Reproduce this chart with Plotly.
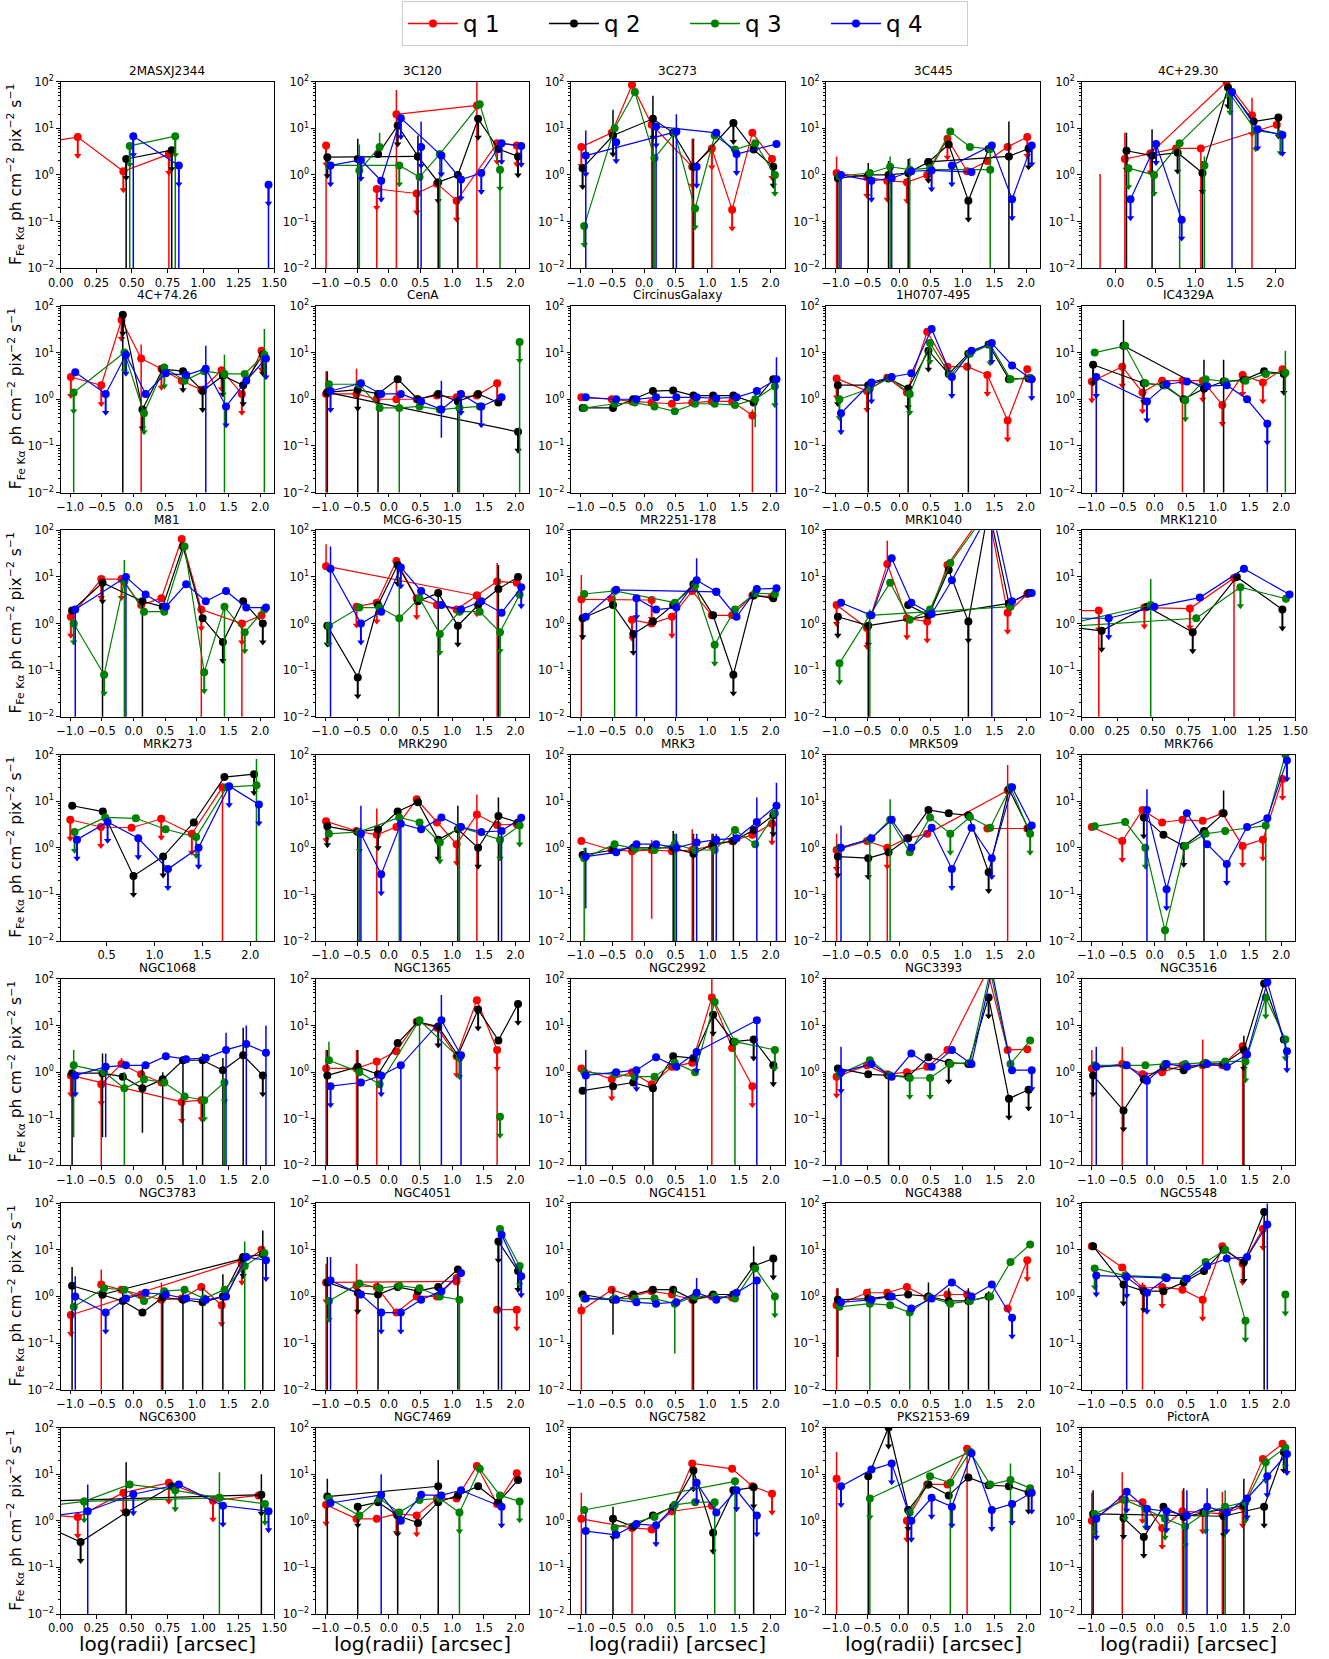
import plotly.graph_objects as go

W, H = 1329, 1659
COLORS = ["#ff0000", "#000000", "#008000", "#0000ff"]
LABELS = ["q 1", "q 2", "q 3", "q 4"]
# radial bins (log radius, arcsec) and small horizontal shift per quartile
GRID = [-0.97, -0.49, -0.17, 0.14, 0.46, 0.78, 1.09, 1.41, 1.73, 2.04]
SHIFT = [-0.02, 0.0, 0.025, 0.05]
YTICKS = [0.01, 0.1, 1, 10, 100]
YTICKTEXT = ["10<sup>\u22122</sup>", "10<sup>\u22121</sup>", "10<sup>0</sup>", "10<sup>1</sup>", "10<sup>2</sup>"]
STD_RANGE = [-1.15, 2.22]
STD_TICKS = [-1.0, -0.5, 0.0, 0.5, 1.0, 1.5, 2.0]
SHORT_TICKS = [0.0, 0.25, 0.5, 0.75, 1.0, 1.25, 1.5]

# point = [bin, value, upper_limit, err_low (0 = to axis bottom), err_high]; None breaks the line
D_2MASXJ2344 = [
    [[2, 4.6], [3, 6.5, 1], [4, 1.2, 1], [5, 2.8, 1, 0, 3.0]],
    [[4, 2.2, 1, 0, 2.4], [5, 3.4, 1, 0, 3.6]],
    [[4, 4.2, 1, 0, 4.4], [5, 6.8, 1, 0, 7]],
    [[4, 6.8, 1, 0, 7], [5, 1.6, 1, 0, 1.7], None, [7, 0.62, 1, 0, 0.65]],
]
D_3C120 = [
    [[0, 4.3, 1, 0, 4.5], None, [2, 0.5, 1, 0, 0.55], [4, 0.4, 1], [5, 0.65], [6, 0.28, 1], [8, 4.8, 1], [9, 4.3, 1], None, [3, 20, 0, 0, 66], [7, 31, 0, 0, 100]],
    [[0, 2.4, 1], [4, 2.5, 0, 0, 7], None, [1, 2.2, 0, 0, 6], None, [2, 2.8], [3, 11.5, 1], [4, 2.5], [5, 0.7, 1, 0, 0.8], [6, 1.0, 0, 0, 1.2], [7, 16, 1], [8, 3.6], [9, 2.5, 1]],
    [[0, 1.6], [3, 1.6, 1], [4, 0.9], [5, 2.8, 0, 0, 3.2], [7, 33], [8, 1.3, 1, 0, 1.4], None, [1, 1.25, 0, 0, 4.5], [2, 4.0, 0, None, 8]],
    [[0, 1.6, 1], [1, 2.1, 1], [2, 0.75, 1], [3, 16.5, 1], [5, 2.6, 1], [6, 0.8, 1], [7, 1.1, 1], [8, 4.8, 1], [9, 4.2, 1], None, [4, 4.0, 1, 0, 14]],
]
D_3C273 = [
    [[0, 4.0, 1], [1, 8], [2, 85], [3, 12, 0, 0, 14], [5, 1.5, 1, 0, 6], [6, 3.7, 1, 0, 4], [7, 0.18, 1], [8, 8], [9, 2.2, 1]],
    [[0, 1.4, 1], [1, 7, 1, None, 25], [3, 16, 1, 0, 50], [4, 8, 0, 0, 9], [5, 1.5, 0, 0, 6], [7, 13, 1], [8, 3.5], [9, 1.5, 1]],
    [[0, 0.08, 1], [1, 10], [2, 60], [3, 2.3, 0, 0, 2.5], [4, 8], [5, 0.19, 1], [6, 7], [7, 3.5], [8, 4.8], [9, 1.0, 1]],
    [[0, 2.6, 1, 0, 9], [4, 8.5, 0, 0, 20], None, [1, 5, 1], None, [3, 11, 1, 0, 12], [6, 8], [7, 2.8, 1], [9, 4.6], None, [5, 1.5, 1]],
]
D_3C445 = [
    [[0, 1.1, 0, 0, 2.5], [1, 0.9, 1], [2, 0.75, 1], [3, 0.7, 1], [4, 1.0], [5, 6, 1], [6, 1.2], [7, 2.0], [8, 4.0], [9, 6.5, 1]],
    [[0, 0.85, 0, 0, 1.2], [1, 1.0, 0, 0, 1.8], [2, 1.0, 0, 0, 2], [3, 1.1, 0, 0, 2.2], [4, 1.9, 1], [8, 2.5, 0, 0, 14], [9, 3.7, 1], None, [4, 1.9], [5, 4.5], [6, 0.28, 1], [7, 3.6]],
    [[0, 0.95, 0, 0, 1.1], [1, 1.1], [2, 1.5, 0, 0, 2.5], [3, 1.3, 0, 0, 2.3], [4, 1.4], [5, 8.5], [6, 4.0], [7, 3.6, 0, 0, 4], None, [4, 1.3], [7, 1.3]],
    [[0, 1.0, 0, 0, 1.2], [1, 0.75, 1], [2, 0.85, 0, 0, 1.5], [3, 1.2], [4, 1.25, 1], [6, 1.15], None, [5, 1.6, 1], [7, 4.3], [8, 0.3, 1], [9, 4.3, 1]],
]
D_4C2930 = [
    [[3, 2.2, 0, 0, 8], [4, 2.9, 1], [5, 3.7], [6, 3.7, 0, 0, 4], [9, 12], None, [4, 2.9], [7, 100], [8, 19, 1, 0, 45], None, [2, 0.002, 0, None, 1.05]],
    [[3, 3.3, 1, 0, 8], [4, 2.6, 1, 0, 9.5], [5, 3.0, 1], [6, 1.1, 1, 0, 2], [7, 75, 1], [8, 14], [9, 17, 1]],
    [[3, 1.4, 1], [4, 1.0, 1], [5, 4.8, 0, 0, 5], [7, 55, 1], [8, 9, 1], [9, 7.5, 1], None, [6, 1.6, 0, 0, 2.5]],
    [[3, 0.3, 1], [4, 4.6, 1], [5, 0.11, 1], None, [7, 60, 0, 0, 70], [8, 9.5, 1], [9, 7.2, 1]],
]
D_4C7426 = [
    [[0, 3.0, 1], [1, 2.0, 1], [2, 50, 1], [3, 7.5, 0, 0, 15], [4, 4.5, 1], [5, 2.5], [6, 1.6], [7, 4.2, 1], [8, 1.3, 1], [9, 11, 1]],
    [[2, 65, 1, 0, 70], [3, 0.6, 1], [4, 4.4], [5, 4.0, 1], [6, 1.5, 1], [7, 3.2, 1], [8, 2.0, 1], [9, 9, 1]],
    [[0, 1.4, 1, 0, 1.5], [2, 10, 1], [3, 0.5, 1], [4, 4.8, 1], [5, 2.5], [6, 4.0], [7, 3.5, 0, 0, 9], [8, 3.5], [9, 9, 0, 0, 32]],
    [[0, 3.8], [1, 1.3, 1], [2, 9, 1], [3, 1.3], [4, 3.6], [5, 3.3], [6, 4.5, 1, 0, 14], [7, 0.7, 1], [8, 2.5], [9, 7.5, 1]],
]
D_CENA = [
    [[0, 1.3, 0, 0, 4], [1, 1.3, 0, None, 4.5], [2, 1.0], [3, 1.0, 0, None, 3], [4, 1.0], [5, 1.2], [6, 1.1], [7, 1.2], [8, 2.2, 1]],
    [[0, 1.4, 0, 0, 4], [1, 1.6, 1, 0, 2], [2, 1.3, 0, 0, 1.5], [3, 2.7], [4, 1.0], [5, 1.3], [6, 0.9, 0, 0, 1.5], [7, 1.3], [8, 0.85], None, [0, 1.4], [9, 0.2, 1]],
    [[0, 2.1], [1, 2.1], [2, 0.65], [3, 0.65, 0, 0, 0.9], [4, 0.7], [5, 0.6], [6, 0.65, 0, 0, 0.9], [7, 0.7], None, [9, 17, 1, 0, 20]],
    [[0, 1.5, 1], [1, 2.2], [2, 1.3], [3, 1.3], [4, 0.9], [5, 0.6, 0, 0.15, 2.5], [6, 1.3, 1], [7, 0.7, 1], [8, 1.1]],
]
D_CIRCINUS = [
    [[0, 1.1], [1, 1.0], [2, 0.9], [3, 0.85], [4, 0.8], [5, 0.85], [6, 0.9], [7, 0.9], [8, 0.45, 0, 0, 0.6]],
    [[0, 0.65], [1, 0.65], [2, 1.0], [3, 1.5], [4, 1.55], [5, 1.2], [6, 1.2], [7, 1.2], [8, 0.85], [9, 2.7]],
    [[0, 0.65], [1, 0.8], [2, 0.85], [3, 0.7], [4, 0.55], [5, 0.8], [6, 0.8], [7, 0.75], [8, 1.0, 0, 0.25, 1.3], [9, 1.9, 1, 0.7, 3]],
    [[0, 1.1], [1, 1.0], [2, 1.0], [3, 1.1], [4, 1.1], [5, 1.1], [6, 1.05], [7, 1.1], [8, 1.5], [9, 2.7, 0, 0, 8]],
]
D_1H0707 = [
    [[0, 2.8, 1], [1, 1.5, 1], [2, 2.9], [3, 1.4], [4, 28], [5, 5], [6, 5], [7, 3.3, 1], [8, 0.35, 1], [9, 4.4]],
    [[0, 2.0, 1], [1, 2.0, 0, 0, 2.5], [2, 2.8], [3, 1.7, 1, 0, 2], [4, 11, 1], [5, 3.5], [6, 9.5, 0, 0, 10], [7, 15], [8, 2.7], [9, 2.8]],
    [[0, 1.0, 1], [1, 1.7], [2, 2.9], [3, 1.3, 1], [4, 16, 1], [5, 3.3], [6, 9.5], [7, 15, 1], [8, 2.7], [9, 2.9]],
    [[0, 0.5, 1], [1, 2.3, 1], [2, 3.0], [3, 3.6], [4, 32], [5, 3.0, 1], [6, 11], [7, 16, 1], [8, 5.3], [9, 2.7, 1]],
]
D_IC4329A = [
    [[0, 2.4, 1], [1, 5, 1], [2, 1.4, 1], [3, 2.5], [4, 2.5, 1, 0, 2.7], [5, 2.5, 1], [6, 0.75, 1], [7, 3.3, 1], [8, 2.3, 1], [9, 4.4]],
    [[0, 5.5, 1], [2, 2.2, 1], [3, 2.0], [4, 1.0], [5, 1.7, 0, 0, 7], [6, 2.4, 0, 0, 7], [7, 2.6], [8, 4.0], [9, 3.5, 1], None, [1, 14, 0, 0, 50], [5, 1.7]],
    [[0, 10], [1, 14], [2, 2.2], [3, 2.0], [4, 0.95, 1], [5, 2.7], [6, 2.4], [7, 2.5], [8, 3.5], [9, 3.7, 0, 0, 11]],
    [[0, 3.0, 1, 0, 3.2], [2, 0.9, 1], [3, 2.1], [4, 2.4], [5, 1.9], [6, 2.0], [7, 1.0], [8, 0.3, 1, 0, 0.35]],
]
D_M81 = [
    [[0, 1.4, 1], [1, 9, 1], [2, 9, 1], [3, 2.5], [4, 3.5], [5, 65], [6, 2.0, 1, 0, 2.2], [8, 1.0, 1, 0, 1.1], [9, 1.5]],
    [[0, 1.9], [1, 7.5, 1, 0, 8], [3, 3.0, 0, 0, 3.3], [4, 2.3], [5, 45], [6, 1.3], [7, 0.4, 1], [8, 3.0], [9, 1.0, 1]],
    [[0, 1.0, 1], [1, 0.08, 1], [2, 8, 0, 0, 23], [3, 1.8], [4, 1.8], [5, 45], [6, 0.09, 1], [7, 2.3, 0, 0, 2.5], [8, 0.65, 1], [9, 2.0]],
    [[0, 2.0, 0, 0, 2.2], [2, 10, 0, 0, 11], [3, 4.2], [4, 2.3], [5, 7], [6, 3.0], [7, 5.0], [8, 2.2], [9, 2.2]],
]
D_MCG63015 = [
    [[0, 17, 0, None, 50], [7, 4.0, 1], [8, 8, 0, 0, 20], [9, 7.5], None, [1, 2.3, 1], [2, 2.8, 1], [3, 22], [4, 3.5, 1], [5, 2.5], [6, 2.0], [7, 4.0]],
    [[0, 0.9, 1], [1, 0.07, 1], [2, 2.5], [3, 18, 1], [4, 3.0], [5, 4.5, 0, 0, 5], [6, 0.9, 1], [7, 2.5], [8, 5.5, 0, 0, 18], [9, 10]],
    [[0, 0.9, 1], [1, 2.2], [2, 2.2], [3, 1.3, 0, 0, 10], [4, 3.5], [5, 0.6, 1], [6, 1.8], [7, 1.8], [8, 0.65, 1, 0, 0.7], [9, 4.2]],
    [[0, 15, 0, 0, 45], [1, 1.0, 1], [2, 1.8], [3, 16, 1], [4, 5], [5, 2.5], [6, 2.0], [7, 3.0], [8, 1.7], [9, 6, 1]],
]
D_MR2251 = [
    [[0, 3.3, 0, 0, 11], [1, 3.3], [3, 3.2, 1], None, [2, 1.2, 1], [3, 1.0], [4, 1.4, 1], [5, 5], [6, 1.5], [7, 1.5], [8, 4], [9, 3.8]],
    [[0, 1.3, 1], [1, 2.5], [2, 0.6, 1], [3, 1.1], [4, 2.5], [5, 7], [6, 1.5], [7, 0.08, 1], [8, 4.0], [9, 3.5]],
    [[0, 4.3], [1, 5.0, 0, 0, 5.5], [4, 2.8], [5, 6.5], [6, 0.35, 1], [7, 2.0], [8, 4.5], [9, 4.3]],
    [[0, 1.4], [1, 5.3], [6, 4.8], None, [2, 3.5, 1, 0, 4], [3, 2.0], [4, 2.2, 0, 0, 2.5], [5, 8.5, 0, None, 25], [6, 4.8], [7, 1.4], [8, 5.5], [9, 5.7]],
]
D_MRK1040 = [
    [[0, 2.5, 1], [1, 0.8, 1], [2, 19, 0, None, 60], [3, 1.3, 1], [4, 1.1, 1], [5, 18], [7, 300], [8, 1.7, 1], [9, 4.3]],
    [[0, 1.4, 1], [1, 0.9, 1, 0, 1], [8, 2.7], None, [3, 2.5], [4, 1.5], [5, 14], [6, 1.1, 1, 0, 1.2], [7, 300], [8, 2.7], [9, 4.5]],
    [[0, 0.14, 1], [1, 1.5, 0, 0, 2], [2, 7.5], [3, 1.2], [4, 2.0], [5, 20], [7, 300], None, [1, 1.5], [8, 2.3]],
    [[0, 2.8], [1, 1.5], [2, 25], [3, 2.8], [4, 1.6], [5, 8.5], [7, 300, 0, 0, 300], [8, 3.0], [9, 4.5]],
]
D_MRK1210 = [
    [[2, 1.9], [3, 1.9, 1, 0, 2], None, [4, 2.2, 1], [5, 2.1, 1], [6, 9.5, 0, 0, 10]],
    [[2, 0.9], [3, 0.7, 1], [4, 2.3], [5, 0.65, 1], [6, 10], [7, 2.0, 1]],
    [[2, 0.9], [4, 2.5, 0, 0, 9], None, [2, 0.85], [5, 1.3], [6, 6, 1], [7, 3.4]],
    [[2, 1.3], [3, 1.3, 1], [4, 2.3], [5, 3.6], [6, 15], [7, 4.2]],
]
D_MRK273 = [
    [[3, 4.0, 1], [4, 2.8, 1], [5, 2.7], [6, 4.2, 1], [7, 2.0, 1], [8, 20, 0, 0, 22]],
    [[3, 8], [4, 6], [5, 0.25, 1], [6, 0.65, 1], [7, 3.5], [8, 33], [9, 38, 1]],
    [[3, 2.2, 1], [4, 4.5], [5, 4.3], [6, 2.5], [7, 1.7, 1], [8, 20], [9, 22, 0, 0, 80]],
    [[3, 1.5, 1], [4, 3.6, 1], [5, 1.6, 1], [6, 0.35, 1], [7, 1.0, 1], [8, 21, 1], [9, 8.5, 1]],
]
D_MRK290 = [
    [[0, 3.7, 1], [1, 2.3], [2, 1.9, 0, 0, 7], [3, 2.8], [4, 11], [5, 3.5], [6, 1.2, 1], [7, 5.2, 0, 0, 14], [8, 3.1], [9, 3.2]],
    [[0, 2.9, 1], [1, 2.2, 0, 0, 2.5], [2, 2.5, 1], [3, 6], [4, 9.5], [5, 1.5, 1], [6, 2.5, 0, 0, 8], [7, 1.0, 1], [8, 4.8, 0, 0, 12], [9, 3.5]],
    [[0, 2.0], [1, 2.2, 1, 0, 2.4], [3, 4.5, 0, 0, 5], [4, 3.5], [5, 1.3, 1], [6, 2.8, 0, 0, 3], [8, 1.5, 1], [9, 3.0, 1]],
    [[1, 2.0, 0, 0, 8], [2, 0.27, 1], [3, 3.3, 0, 0, 3.5], [4, 2.5], [5, 4.5], [6, 2.8], [7, 2.2], [8, 2.3, 0, 0, 2.5], [9, 4.4]],
]
D_MRK3 = [
    [[0, 1.4], [1, 0.9], [2, 0.85, 0, 0, 1.2], [3, 0.9, 0, 0.03, 1.5], [4, 0.85], [5, 0.9, 0, 0, 2.5], [6, 1.1, 0, 0, 2], [7, 1.4], [8, 1.9], [9, 3.3, 1]],
    [[0, 0.7], [1, 0.9], [2, 1.0], [3, 1.0], [4, 1.0, 0, 0, 2.3], [5, 0.75, 0, 0, 2], [6, 1.2, 0, 0, 2], [7, 1.4, 0, 0, 2], [8, 2.4], [9, 5, 1]],
    [[0, 0.6, 0, 0, 1], [1, 1.2], [2, 0.95], [3, 0.9], [4, 1.2, 0, 0, 2], [5, 0.9], [6, 0.9], [7, 2.4], [8, 1.2], [9, 5.5]],
    [[0, 0.65, 0, 0.05, 1], [1, 0.8], [2, 1.2], [3, 1.2], [4, 1.0, 0, 0, 2], [5, 1.3, 0, 0, 2], [6, 1.5, 0, 0, 2], [7, 1.6], [8, 3.6, 0, 0, 12], [9, 8, 0, 0, 25]],
]
D_MRK509 = [
    [[0, 0.9, 1, 0, 2], [1, 1.4], [2, 1.0, 1, 0, 1.2], [3, 1.6], [4, 2.0], [8, 17, 0, 0, 60], None, [7, 2.6], [9, 2.6]],
    [[0, 0.65, 1], [1, 0.6, 1], [2, 0.8], [3, 1.6], [4, 6.5], [5, 5.5], [6, 5.0], [7, 0.3, 1], [8, 18], [9, 2.6]],
    [[0, 1.0], [1, 1.5, 0, 0, 2], [2, 4.0, 0, 0, 11], [3, 0.8], [4, 4.5], [5, 2.0, 1], [6, 4.6], [7, 2.7], [8, 20], [9, 2.0, 1]],
    [[0, 1.0, 0, 0, 3], [1, 1.6], [2, 4.0], [3, 1.0], [4, 2.7], [5, 0.35, 1], [6, 2.7], [7, 0.6, 1], [8, 20], [9, 3.0]],
]
D_MRK766 = [
    [[0, 2.8], [1, 1.4, 1], [2, 6.5], [3, 3.5], [4, 4.0], [5, 3.8], [6, 5.5], [7, 1.1, 1], [8, 1.5, 1], [9, 30, 1]],
    [[2, 4.5, 1], [3, 1.9], [4, 1.1, 1], [5, 2.3, 0, 0, 2.5], [6, 5.5, 0, None, 17]],
    [[0, 2.9], [1, 3.6], [2, 1.0, 1], [3, 0.017, 0, 0, 0.02], [4, 1.1], [5, 2.0], [6, 2.3], [8, 3.0, 0, 0, 3], [9, 100]],
    [[2, 6.5, 0, 0, 18], [3, 0.13, 1], [4, 5.5], [5, 1.2], [6, 0.45, 1], [7, 2.8], [8, 4.3], [9, 75, 1]],
]
D_NGC1068 = [
    [[0, 0.85, 1], [5, 0.23, 1], [6, 0.25, 1], None, [1, 0.55, 1, 0, 1], [2, 1.5, 0, None, 2], [3, 0.9], [4, 0.6]],
    [[0, 0.95, 0, 0, 1.1], [1, 0.95, 0, 0.04, 2.5], [2, 0.8], [3, 0.45, 0, 0.05, 1.5], [4, 0.7, 0, 0, 1], [5, 1.8, 0, 0, 2], [6, 1.8, 0, 0, 2.5], [7, 1.1, 0, 0, 2], [8, 2.3, 0, 0, 9], [9, 0.85, 1]],
    [[0, 1.4, 0, 0.04, 3], [1, 1.0], [2, 0.45, 0, 0, 1], [3, 0.7], [4, 0.6], [5, 0.3], [6, 0.25, 1], [7, 0.6, 1, 0, 0.7]],
    [[0, 0.85, 1], [1, 1.3, 0, 0.04, 2.5], [2, 1.4], [3, 1.4], [4, 2.2], [5, 1.9], [6, 2.0], [7, 3.0, 0, 0, 7], [8, 4.0, 0, 0, 10], [9, 2.6, 0, 0, 10]],
]
D_NGC1365 = [
    [[0, 1.2, 0, 0, 3], [1, 1.2, 0, 0, 3], [2, 1.7, 0, 0, 2], [3, 2.8], [4, 12], [5, 9], [6, 2.2, 1], [7, 35], [8, 3.0, 1, 0, 3.3]],
    [[0, 0.85, 0, 0, 3], [1, 1.3, 0, 0, 3], [2, 0.9], [3, 4.2], [4, 12], [5, 9.5, 1], [6, 2.3], [7, 22, 1], [8, 4.8], [9, 29, 1]],
    [[0, 1.8, 0, None, 4.5], [1, 1.0], [2, 0.55], [4, 13, 0, 0, 14], [6, 2.0, 1], None, [8, 0.11, 1]],
    [[0, 0.5, 1], [1, 0.6], [2, 0.85, 1], [3, 1.4, 0, 0, 1.5], [5, 13, 0, 0, 45], [6, 2.3, 0, 0, 2.5]],
]
D_NGC2992 = [
    [[0, 1.2], [1, 0.7, 1], [2, 1.0], [3, 0.55], [4, 1.3], [5, 1.6], [6, 40, 0, 0, 100], [7, 3.3], [8, 0.5, 1]],
    [[0, 0.4], [1, 0.5], [2, 0.6], [3, 0.45, 0, 0, 0.5], [4, 2.2], [5, 2.0], [6, 17, 1], [7, 4.5], [8, 5, 1], [9, 1.4, 1]],
    [[0, 1.0], [1, 0.9], [2, 0.8], [3, 0.8], [4, 1.6], [5, 1.0], [6, 32], [7, 4.5, 0, 0, 5], [9, 3.0, 1]],
    [[0, 0.85, 0, 0, 3], [1, 1.0], [2, 1.1, 1], [3, 2.1], [4, 1.3], [5, 2.7, 1], [8, 13, 0, 0, 15]],
]
D_NGC3393 = [
    [[0, 0.8, 1], [1, 1.4], [2, 0.9], [3, 1.0], [4, 1.3], [5, 3.0], [7, 150], [8, 3.0], [9, 3.1]],
    [[0, 1.2], [1, 0.9], [2, 0.85, 0, 0, 1], [3, 0.8], [4, 2.1], [5, 1.6, 1], [6, 1.5], [7, 40, 1], [8, 0.27, 1], [9, 0.42, 1]],
    [[0, 0.9], [1, 1.8], [2, 0.85], [3, 0.75, 1], [4, 0.75, 1], [5, 1.5], [6, 1.6], [7, 150], [8, 1.5], [9, 4.8]],
    [[0, 1.0, 1, 0, 3.5], [1, 1.5], [2, 0.8], [3, 2.5], [4, 1.3], [5, 3.0], [6, 1.5], [7, 150], [8, 1.1], [9, 1.1, 1]],
]
D_NGC3516 = [
    [[0, 1.2, 0, 0, 3], [1, 1.5, 0, 0, 3.5], [2, 0.9], [3, 1.0], [4, 1.4], [5, 1.4, 0, 0, 5], [6, 1.4], [7, 3.6, 0, 0, 4]],
    [[0, 0.85, 1], [1, 0.15, 1], [2, 0.7], [3, 1.3], [4, 1.1], [5, 1.5], [6, 1.5], [7, 3.0, 1, 0, 6], [8, 80], [9, 5]],
    [[0, 1.4], [1, 1.4], [2, 1.4], [3, 1.5], [4, 1.5], [5, 1.6], [6, 1.7], [7, 1.7, 1], [8, 40, 1], [9, 5.0, 1]],
    [[0, 1.3, 0, 0, 3.5], [1, 1.4], [2, 0.65, 0, 0, 1], [3, 1.5], [4, 1.3], [5, 1.5], [6, 1.3], [7, 2.4], [8, 85], [9, 2.8, 1]],
]
D_NGC3783 = [
    [[0, 0.4, 1], [8, 6], None, [1, 1.8, 0, 0, 3.8], [2, 1.4], [3, 1.1], [4, 0.85, 0, 0, 2], [5, 0.9], [6, 1.6], [7, 0.65, 1], [8, 5.0, 1], [9, 10]],
    [[0, 1.7, 0, 0, 4.3], [1, 1.1], [2, 0.8, 0, 0, 1.5], [3, 0.45], [4, 0.95, 0, 0, 1.5], [5, 0.85, 0, 0, 1.5], [6, 0.75, 0, 0, 1.5], [7, 1.0, 0, 0, 3], [8, 7, 1], [9, 8, 0, 0, 26], None, [1, 1.1], [8, 6.5]],
    [[0, 0.6], [1, 1.5], [2, 1.4], [3, 0.8], [4, 1.3], [5, 1.4], [6, 0.9], [7, 1.4], [8, 4.5, 0, 0, 15], [9, 8.5]],
    [[0, 1.0, 0, 0, 2.7], [1, 0.45, 1], [2, 0.9], [3, 1.2], [4, 1.1], [5, 0.9], [6, 0.85], [7, 1.0], [8, 7], [9, 6, 1]],
]
D_NGC4051 = [
    [[0, 2.0, 1, 0, 5], [6, 2.1], None, [1, 1.7, 0, 0, 5], [2, 1.6], [3, 0.45], [4, 1.0], [5, 1.0], [6, 2.5], None, [8, 0.52], [9, 0.52, 1]],
    [[0, 2.0, 0, 0, 7], [1, 1.2, 1], [2, 1.1, 0, 0, 2], [3, 1.6], [4, 1.3], [5, 1.6], [6, 3.8, 0, 0, 4], None, [8, 15, 1, 0, 16], [9, 3.5, 1]],
    [[0, 0.8, 1], [1, 1.9], [2, 1.5], [3, 1.7], [4, 1.5], [5, 1.0], [6, 0.85, 0, 0, 1], None, [8, 28], [9, 4.5, 1]],
    [[0, 2.2, 0, 0, 7], [1, 1.1], [2, 0.45, 1], [3, 0.45, 1], [4, 0.85], [5, 1.3], [6, 3.2], None, [8, 21, 0, 0, 25], [9, 2.7, 1]],
]
D_NGC4151 = [
    [[0, 0.5, 0, 0, 0.7], [1, 1.4], [2, 1.0], [3, 1.3], [4, 1.1], [5, 0.85, 0, 0, 1], [6, 1.0], [7, 0.95]],
    [[0, 1.1], [1, 0.85, 0, 0.15, 1.5], [2, 1.1], [3, 1.4], [4, 1.4], [5, 0.85, 0, 0, 1], [6, 1.1], [7, 1.1], [8, 4.5, 0, 0, 12], [9, 6.5, 1]],
    [[0, 0.9], [1, 0.9], [2, 0.9], [3, 0.9], [4, 0.7, 0, 0.06, 1.5], [5, 1.0], [6, 1.0], [7, 0.9], [8, 4.0], [9, 1.0, 1]],
    [[0, 0.9], [1, 0.85], [2, 0.75], [3, 0.7], [4, 0.75], [5, 1.2, 0, None, 2.5], [6, 0.85], [7, 1.2], [8, 2.2, 0, 0, 2.5]],
]
D_NGC4388 = [
    [[0, 0.65, 0, 0, 1.5], [1, 1.2], [2, 1.2], [3, 1.6], [4, 0.95], [5, 1.1], [6, 1.1], None, [8, 0.55], [9, 6, 1]],
    [[0, 0.85, 0, 0.05, 1.5], [1, 0.9], [2, 1.0], [3, 1.1], [4, 1.0, 0, 0, 2], [5, 0.8, 0, 0, 1.5], [6, 0.8, 0, 0, 1.5], [7, 1.0, 0, 0, 1.3]],
    [[0, 0.6], [1, 0.7, 0, 0, 1.5], [2, 0.65], [3, 0.45, 0, 0, 0.5], [4, 0.95], [5, 0.7], [6, 0.8], [7, 1.0], [8, 5.5], [9, 13]],
    [[0, 0.75], [1, 0.85], [2, 1.0], [3, 0.55], [4, 0.9], [5, 2.0], [6, 1.0], [7, 1.8], [8, 0.35, 1]],
]
D_NGC5548 = [
    [[0, 12], [1, 4.2], [2, 1.5, 0, 0, 2], [3, 1.6, 1], [4, 1.4], [5, 0.85, 1], [6, 12], [7, 5, 1], [8, 28, 1]],
    [[0, 12], [1, 1.8, 1], [2, 1.3, 1], [3, 1.3], [4, 2.0], [5, 3.5], [6, 10], [7, 5.5, 1], [8, 65, 0, 0, 70]],
    [[0, 4.0, 1], [1, 2.8], [3, 2.6], [4, 2.4], [5, 5.5], [6, 10], [7, 0.3, 1], None, [9, 1.1, 1]],
    [[0, 2.8, 1], [3, 2.5], [4, 2.4], [5, 4.5], [6, 6.5], [7, 7], [8, 35, 0, 0, 100], None, [1, 2.6, 1, 0, 3], [2, 1.2, 1], [3, 2.5]],
]
D_NGC6300 = [
    [[2, 1.4], [3, 1.2, 1], [4, 4, 1], [5, 6.5, 1], [6, 2.7, 1], [7, 3.5]],
    [[2, 2.6], [7, 3.6, 1, 0, 10], None, [2, 0.95], [3, 0.35, 1], [4, 1.5, 0, 0, 18], [5, 5.5]],
    [[2, 2.0], [3, 2.6, 1], [4, 6], [5, 4.5, 1], [6, 3.1, 0, 0, 11], [7, 2.3, 1], None, [3, 2.6], [6, 3.1]],
    [[2, 1.2], [3, 1.6, 0, 0, 6], [4, 3.7, 1], [5, 6], [6, 2.1, 1], [7, 1.6, 1]],
]
D_NGC7469 = [
    [[0, 2.2, 1], [1, 1.1], [2, 1.1], [3, 1.4, 1], [4, 1.3, 1], [5, 3.0], [6, 3.0], [7, 15], [8, 2.3], [9, 10.5]],
    [[0, 3.3, 0, 0, 8], [5, 5.5, 0, 0, 20], None, [1, 2.0, 1, 0, 2.2], [2, 2.5], [3, 1.3, 1, 0, 1.4], [4, 0.9], [5, 2.5], [6, 3.5], [7, 5.5], [8, 2.5], [9, 7.5]],
    [[0, 3.0], [1, 1.3], [2, 3.0], [3, 1.5], [4, 2.8], [5, 3.0], [6, 1.5, 1, 0, 1.7], [7, 13], [8, 3.5], [9, 2.6, 1]],
    [[0, 2.4], [2, 3.6, 0, 0, 10], [3, 1.0], [4, 3.6], [5, 3.5], [6, 4.5], [8, 2.0, 1]],
]
D_NGC7582 = [
    [[0, 1.1, 0, 0, 4], [2, 0.7, 0, 0, 0.8], [3, 0.65], [4, 1.6], [5, 17], [7, 13], [8, 5.5], [9, 3.8, 1], None, [4, 1.6], [6, 2.1]],
    [[1, 1.1, 1, 0, 2], [2, 0.75], [3, 1.3], [4, 2.0], [5, 12, 1], [6, 0.55, 1], [7, 4.5], [8, 5.2, 1, 0, 5.5]],
    [[0, 1.7], [7, 7, 0, 0, 7.5], None, [1, 0.7], [3, 1.2], [4, 2.2, 0, 0, 2.5], [5, 2.5], [6, 2.5, 0, 0, 3]],
    [[0, 0.6, 0, 0, 1.5], [1, 0.5], [2, 0.85], [3, 0.8, 1], [5, 6.5, 1], [6, 1.5], [7, 4.5, 1], [8, 1.3, 1]],
]
D_PKS2153 = [
    [[0, 8, 0, 0, 30], None, [3, 1.0, 1], [4, 6], [5, 6], [6, 35, 0, 0, 40]],
    [[1, 9, 0, 0, 10], [2, 100, 1], [3, 1.7, 1, 0, 2], [4, 6], [5, 3.5], [6, 8.5], [7, 5.8], [8, 5.5], [9, 4, 1]],
    [[1, 3.0, 1, 0, 3.2], [6, 30], [7, 6], [8, 7.5, 0, 0, 17], [9, 5], None, [3, 1.5], [4, 9], [5, 6.5, 0, 0, 7], [6, 30]],
    [[0, 5.5, 1], [1, 12.5], [2, 17, 1], [3, 1.0, 1], [4, 3.1, 1], [5, 2.0, 1], [6, 28], [7, 1.7, 1], [8, 2.3, 1], [9, 4, 1]],
]
D_PICTORA = [
    [[0, 1.0, 0, 0, 4], [1, 2.9, 0, 0, 11], [2, 2.5, 1], [3, 0.7, 1], [4, 1.6, 0, 0, 4.5], [5, 1.5, 1], [6, 1.4, 0, 0, 4.2], [7, 2.0, 1], [8, 21], [9, 45]],
    [[0, 1.4, 0, 0, 4.5], [6, 1.25, 1, 0, 1.3], [8, 2.0, 1], [9, 30, 1], None, [1, 1.15, 1], [2, 0.45, 1], [3, 2.0], [4, 1.2, 0, 0, 5], [5, 1.5], [7, 2.1, 0, 0, 8]],
    [[0, 1.4, 1], [1, 2.8, 1], [2, 1.8, 1], [3, 1.1, 1], [4, 0.75, 1, 0, 0.8], [5, 1.5, 1], [6, 2.0, 0, 0, 4.5], [7, 2.5, 1], [8, 18, 1], [9, 37, 1]],
    [[0, 1.1, 1], [1, 4.2, 1], [2, 1.8, 1], [3, 1.6, 1], [4, 1.3, 0, 0, 4.5], [5, 2.0, 0, 0, 5], [6, 1.5, 1], [7, 3.0, 1], [8, 9, 1], [9, 27, 1]],
]

TITLES = ["2MASXJ2344", "3C120", "3C273", "3C445", "4C+29.30",
          "4C+74.26", "CenA", "CircinusGalaxy", "1H0707-495", "IC4329A",
          "M81", "MCG-6-30-15", "MR2251-178", "MRK1040", "MRK1210",
          "MRK273", "MRK290", "MRK3", "MRK509", "MRK766",
          "NGC1068", "NGC1365", "NGC2992", "NGC3393", "NGC3516",
          "NGC3783", "NGC4051", "NGC4151", "NGC4388", "NGC5548",
          "NGC6300", "NGC7469", "NGC7582", "PKS2153-69", "PictorA"]
DATA = [D_2MASXJ2344, D_3C120, D_3C273, D_3C445, D_4C2930,
        D_4C7426, D_CENA, D_CIRCINUS, D_1H0707, D_IC4329A,
        D_M81, D_MCG63015, D_MR2251, D_MRK1040, D_MRK1210,
        D_MRK273, D_MRK290, D_MRK3, D_MRK509, D_MRK766,
        D_NGC1068, D_NGC1365, D_NGC2992, D_NGC3393, D_NGC3516,
        D_NGC3783, D_NGC4051, D_NGC4151, D_NGC4388, D_NGC5548,
        D_NGC6300, D_NGC7469, D_NGC7582, D_PKS2153, D_PICTORA]
XRANGES = {"2MASXJ2344": ([0, 1.5], SHORT_TICKS, ".2f"),
           "MRK1210": ([0, 1.5], SHORT_TICKS, ".2f"),
           "NGC6300": ([0, 1.5], SHORT_TICKS, ".2f"),
           "4C+29.30": ([-0.42, 2.25], [0.0, 0.5, 1.0, 1.5, 2.0], ".1f"),
           "MRK273": ([0.02, 2.25], [0.5, 1.0, 1.5, 2.0], ".1f")}

FONT = "DejaVu Sans"
LEFT0, COLSTEP, PW = 60.7, 255.25, 213.5
TOP0, ROWSTEP, PH = 81.7, 224.3, 186.5
BOTTOM_VAL = 1e-4
ARROW = 2.7

fig = go.Figure()
layout = {}
annotations = []

for i, (title, panel) in enumerate(zip(TITLES, DATA)):
    r, c = divmod(i, 5)
    x0 = LEFT0 + c * COLSTEP
    y0 = TOP0 + r * ROWSTEP
    n = "" if i == 0 else str(i + 1)
    xr, xt, xf = XRANGES.get(title, (STD_RANGE, STD_TICKS, ".1f"))
    layout["xaxis" + n] = dict(
        domain=[x0 / W, (x0 + PW) / W], anchor="y" + n, range=xr, automargin=False,
        tickvals=xt, tickformat=xf, showline=True, mirror=True, linecolor="black",
        linewidth=1, ticks="outside", ticklen=3.5, tickcolor="black",
        showgrid=False, zeroline=False, tickfont=dict(family=FONT, size=11.5, color="black"))
    layout["yaxis" + n] = dict(
        domain=[1 - (y0 + PH) / H, 1 - y0 / H], anchor="x" + n, type="log", range=[-2, 2],
        automargin=False,
        tickvals=YTICKS, ticktext=YTICKTEXT, showline=True, mirror=True, linecolor="black",
        linewidth=1, ticks="outside", ticklen=3.5, tickcolor="black",
        minor=dict(ticks="outside", ticklen=2, tickcolor="black", dtick="D1"),
        showgrid=False, zeroline=False, tickfont=dict(family=FONT, size=11.5, color="black"))
    annotations.append(dict(text=title, x=(x0 + PW / 2) / W, y=1 - (y0 - 10.5) / H,
                            xref="paper", yref="paper", showarrow=False, xanchor="center",
                            yanchor="middle", font=dict(family=FONT, size=12, color="black")))
    if c == 0:
        annotations.append(dict(
            text="F<sub>Fe K\u03b1</sub> ph cm<sup>\u22122</sup> pix<sup>\u22122</sup> s<sup>\u22121</sup>",
            x=16 / W, y=1 - (y0 + PH / 2) / H, xref="paper", yref="paper", showarrow=False,
            textangle=-90, xanchor="center", yanchor="middle",
            font=dict(family=FONT, size=15.5, color="black")))
    if r == 6:
        annotations.append(dict(text="log(radii) [arcsec]", x=(x0 + PW / 2) / W, y=1 - 1644 / H,
                                xref="paper", yref="paper", showarrow=False, xanchor="center",
                                yanchor="middle", font=dict(family=FONT, size=20, color="black")))

    xa, ya = "x" + n, "y" + n
    for k, series in enumerate(panel):
        col = COLORS[k]
        lx, ly, mx, my, ex, ey, ax, ay, hx, hy = [], [], [], [], [], [], [], [], [], []
        for p in series:
            if p is None:
                lx.append(None)
                ly.append(None)
                continue
            b, v = p[0], p[1]
            u = p[2] if len(p) > 2 else 0
            lo = p[3] if len(p) > 3 else None
            hi = p[4] if len(p) > 4 else None
            x = GRID[b] + SHIFT[k]
            lx.append(x)
            ly.append(v)
            mx.append(x)
            my.append(v)
            if lo is not None or hi is not None:
                ylo = v if lo is None else (BOTTOM_VAL if lo == 0 else lo)
                yhi = v if hi is None else hi
                ex += [x, x, None]
                ey += [ylo, yhi, None]
            if u:
                ax += [x, x, None]
                ay += [v, v / ARROW, None]
                hx.append(x)
                hy.append(v / (ARROW * 0.93))
        fig.add_trace(go.Scatter(x=ex, y=ey, mode="lines", line=dict(color=col, width=1.5),
                                 xaxis=xa, yaxis=ya, showlegend=False, hoverinfo="skip"))
        fig.add_trace(go.Scatter(x=lx, y=ly, mode="lines", line=dict(color=col, width=1.2),
                                 connectgaps=False, xaxis=xa, yaxis=ya, showlegend=False))
        fig.add_trace(go.Scatter(x=ax, y=ay, mode="lines", line=dict(color=col, width=2),
                                 xaxis=xa, yaxis=ya, showlegend=False, hoverinfo="skip"))
        fig.add_trace(go.Scatter(x=hx, y=hy, mode="markers",
                                 marker=dict(symbol="triangle-down", size=6.5, color=col),
                                 xaxis=xa, yaxis=ya, showlegend=False, hoverinfo="skip"))
        fig.add_trace(go.Scatter(x=mx, y=my, mode="markers",
                                 marker=dict(symbol="circle", size=8, color=col),
                                 xaxis=xa, yaxis=ya, showlegend=False))

for k in range(4):
    fig.add_trace(go.Scatter(x=[None], y=[None], mode="lines+markers", name=LABELS[k],
                             line=dict(color=COLORS[k], width=1.5),
                             marker=dict(symbol="circle", size=8, color=COLORS[k]),
                             xaxis="x", yaxis="y", showlegend=True))

fig.update_layout(
    width=W, height=H, margin=dict(l=0, r=0, t=0, b=0, autoexpand=False),
    paper_bgcolor="white", plot_bgcolor="white",
    font=dict(family=FONT, color="black"),
    annotations=annotations,
    legend=dict(orientation="h", x=685 / W, xanchor="center", y=1 - 1 / H, yanchor="top",
                bordercolor="#cccccc", borderwidth=1, bgcolor="white",
                font=dict(family=FONT, size=23, color="black"), entrywidth=76,
                itemwidth=50),
    **layout,
)
fig.write_html("out.html")
